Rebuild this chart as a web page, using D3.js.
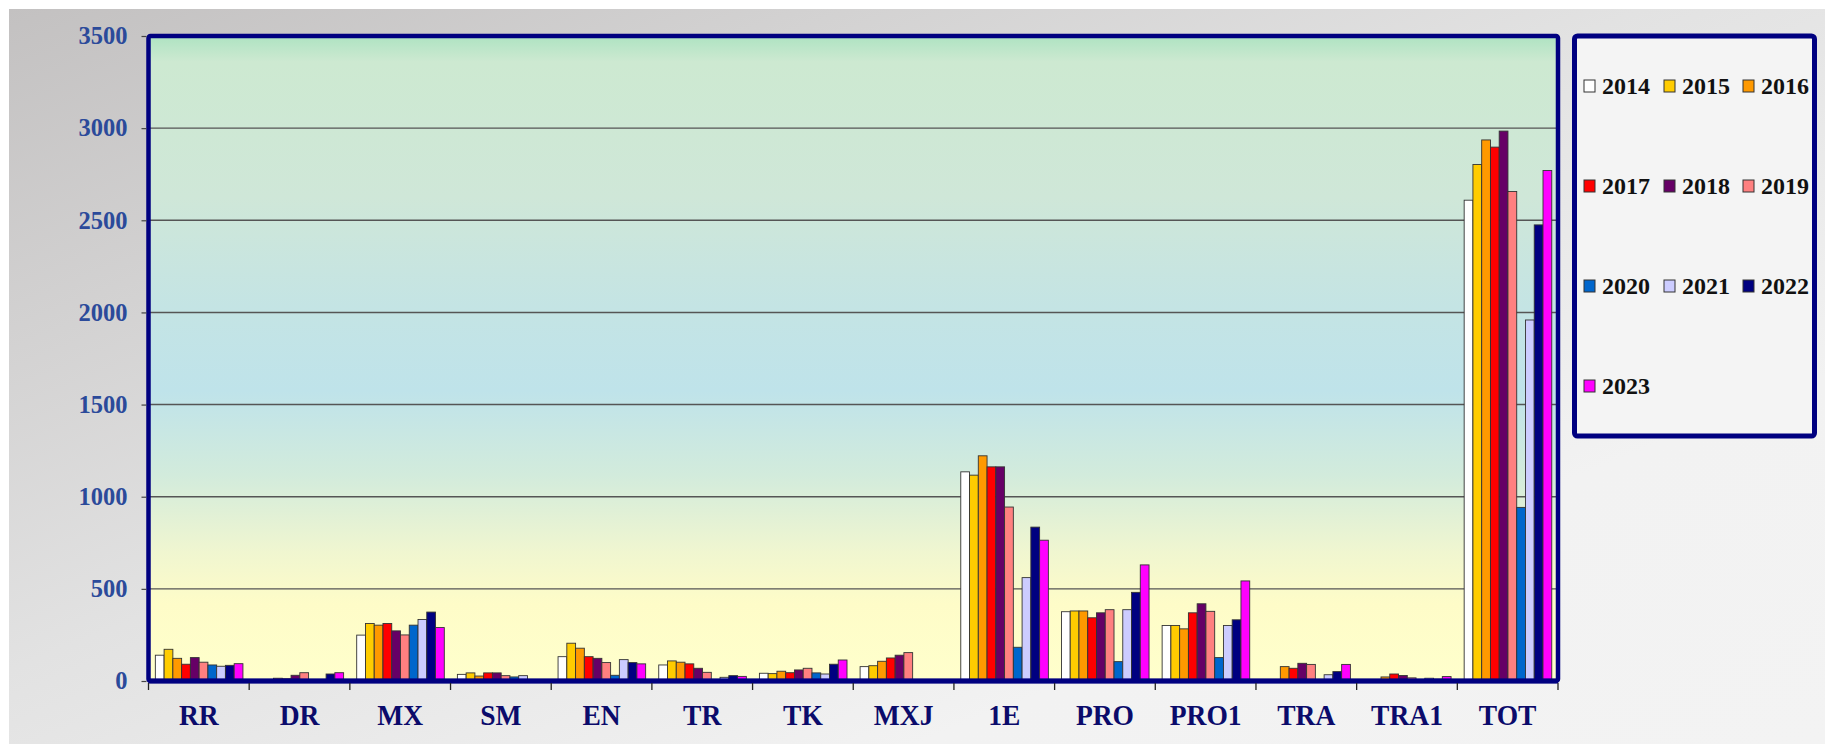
<!DOCTYPE html>
<html>
<head>
<meta charset="utf-8">
<script src="https://cdn.jsdelivr.net/npm/d3@7"></script>
<style>
  html, body { margin: 0; padding: 0; background: #ffffff; }
  svg { display: block; }
</style>
</head>
<body>
<div id="chart"></div>
<script>
// ---------------- DATA ----------------
const categories = ["RR","DR","MX","SM","EN","TR","TK","MXJ","1E","PRO","PRO1","TRA","TRA1","TOT"];
const years = ["2014","2015","2016","2017","2018","2019","2020","2021","2022","2023"];

const v2014 = [140, 0, 249, 36, 132, 87, 42, 78, 1135, 376, 301, 0, 0, 2609];
const v2015 = [172, 0, 312, 44, 205, 109, 40, 83, 1117, 380, 301, 0, 3, 2803];
const v2016 = [123, 15, 303, 27, 178, 102, 53, 107, 1222, 380, 283, 78, 22, 2936];
const v2017 = [91, 12, 312, 44, 132, 93, 45, 125, 1162, 343, 370, 69, 38, 2897];
const v2018 = [127, 31, 272, 44, 123, 69, 60, 140, 1162, 370, 419, 96, 30, 2984];
const v2019 = [102, 45, 250, 29, 100, 47, 69, 154, 944, 387, 378, 90, 17, 2656];
const v2020 = [87, 0, 303, 22, 31, 4, 44, 0, 183, 105, 127, 5, 3, 942];
const v2021 = [80, 2, 334, 29, 116, 20, 38, 0, 561, 387, 301, 34, 15, 1959];
const v2022 = [85, 38, 374, 5, 100, 29, 91, 0, 835, 481, 332, 51, 10, 2475];
const v2023 = [94, 45, 290, 4, 93, 25, 114, 0, 764, 630, 543, 90, 24, 2770];

const yTicks = [0, 500, 1000, 1500, 2000, 2500, 3000, 3500];
const colors = ["#ffffff","#ffcc00","#ff9900","#ff0000","#660066","#ff8080","#0066cc","#ccccff","#000080","#ff00ff"];

const seriesValues = [v2014, v2015, v2016, v2017, v2018, v2019, v2020, v2021, v2022, v2023];

// ---------------- LAYOUT ----------------
const W = 1825, H = 744;
const L = 148.5, R = 1558, T = 36, B = 681;
const serif = "'Liberation Serif','DejaVu Serif','Times New Roman',serif";

const svg = d3.select("#chart").append("svg")
  .attr("width", W).attr("height", H);

const defs = svg.append("defs");
const bgGrad = defs.append("linearGradient").attr("id", "bgGrad")
  .attr("x1", "0").attr("y1", "0").attr("x2", "1").attr("y2", "1");
[[0, "#c3c1c1"], [0.45, "#e2e2e2"], [0.75, "#f2f2f2"], [1, "#f3f3f3"]]
  .forEach(([o, c]) => bgGrad.append("stop").attr("offset", o).attr("stop-color", c));

const plotGrad = defs.append("linearGradient").attr("id", "plotGrad")
  .attr("x1", "0").attr("y1", "0").attr("x2", "0").attr("y2", "1");
[[0, "#aee3c2"], [0.04, "#cde9d1"], [0.25, "#cfe7d8"], [0.42, "#c4e4e4"], [0.55, "#bfe3ea"],
 [0.68, "#d2ebdc"], [0.8, "#f0f6d0"], [0.88, "#fefcc8"], [1, "#ffffcc"]]
  .forEach(([o, c]) => plotGrad.append("stop").attr("offset", o).attr("stop-color", c));

// background
svg.append("rect").attr("x", 9).attr("y", 9).attr("width", W - 9).attr("height", H - 9)
  .attr("fill", "url(#bgGrad)");

// scales
const x0 = d3.scaleBand().domain(categories).range([L, R]).paddingInner(0).paddingOuter(0);
const bw = x0.bandwidth();
const x1 = d3.scaleBand().domain(years).range([bw * 0.068, bw * 0.938]);
const y = d3.scaleLinear().domain([0, 3500]).range([B, T]);

// plot background
svg.append("rect").attr("x", L).attr("y", T).attr("width", R - L).attr("height", B - T)
  .attr("fill", "url(#plotGrad)");

// gridlines
svg.append("g").selectAll("line").data(yTicks.filter(d => d > 0 && d < 3500)).join("line")
  .attr("x1", L).attr("x2", R)
  .attr("y1", d => y(d)).attr("y2", d => y(d))
  .attr("stroke", "#555").attr("stroke-width", 1.4);

// bars
const barData = [];
categories.forEach((c, ci) => {
  years.forEach((yr, si) => {
    barData.push({ cat: c, year: yr, si: si, value: seriesValues[si][ci] });
  });
});
svg.append("g").selectAll("rect").data(barData.filter(d => d.value > 0)).join("rect")
  .attr("x", d => x0(d.cat) + x1(d.year))
  .attr("y", d => y(d.value))
  .attr("width", x1.bandwidth())
  .attr("height", d => y(0) - y(d.value))
  .attr("fill", d => colors[d.si])
  .attr("stroke", "#333")
  .attr("stroke-width", 0.9);

// plot border
svg.append("rect").attr("x", L).attr("y", T).attr("width", R - L).attr("height", B - T)
  .attr("fill", "none").attr("stroke", "#000080").attr("stroke-width", 4.5).attr("rx", 2);
// bottom axis line
svg.append("line").attr("x1", L).attr("x2", R).attr("y1", B).attr("y2", B)
  .attr("stroke", "#000080").attr("stroke-width", 5);

// y axis ticks + labels
const yAxis = svg.append("g").attr("transform", `translate(${L - 2},0)`)
  .call(d3.axisLeft(y).tickValues(yTicks).tickSize(5).tickPadding(14).tickFormat(d3.format("d")));
yAxis.select(".domain").remove();
yAxis.selectAll(".tick line").attr("stroke", "#444").attr("stroke-width", 1.2);
yAxis.selectAll(".tick text")
  .attr("fill", "#2b4a9a")
  .style("font-family", serif).style("font-weight", "bold").style("font-size", "24.5px");

// x axis ticks at band boundaries
const boundaries = categories.map(c => x0(c)).concat([x0(categories[categories.length - 1]) + bw]);
svg.append("g").selectAll("line").data(boundaries).join("line")
  .attr("x1", d => d).attr("x2", d => d)
  .attr("y1", B + 2).attr("y2", B + 9)
  .attr("stroke", "#222").attr("stroke-width", 1.3);

// x labels
svg.append("g").selectAll("text").data(categories).join("text")
  .attr("transform", d => `translate(${x0(d) + bw / 2},725) scale(0.95,1)`)
  .attr("text-anchor", "middle")
  .attr("fill", "#0b0b6b")
  .style("font-family", serif).style("font-weight", "bold").style("font-size", "29px")
  .text(d => d);

// legend
const lg = svg.append("g");
lg.append("rect").attr("x", 1574.5).attr("y", 36).attr("width", 240).attr("height", 400)
  .attr("fill", "#f4f4f4").attr("stroke", "#000080").attr("stroke-width", 5).attr("rx", 3);
const colX = [1584, 1664, 1743];
const rowY = [86, 186, 286, 386];
const items = lg.selectAll("g.item").data(years).join("g").attr("class", "item")
  .attr("transform", (d, i) => `translate(${colX[i % 3]},${rowY[Math.floor(i / 3)]})`);
items.append("rect").attr("x", 0).attr("y", -6).attr("width", 11).attr("height", 12)
  .attr("fill", (d, i) => colors[i]).attr("stroke", "#333").attr("stroke-width", 1);
items.append("text").attr("x", 18).attr("y", 0).attr("dy", "0.35em")
  .attr("fill", "#111")
  .style("font-family", serif).style("font-weight", "bold").style("font-size", "24px")
  .text(d => d);
</script>
</body>
</html>
